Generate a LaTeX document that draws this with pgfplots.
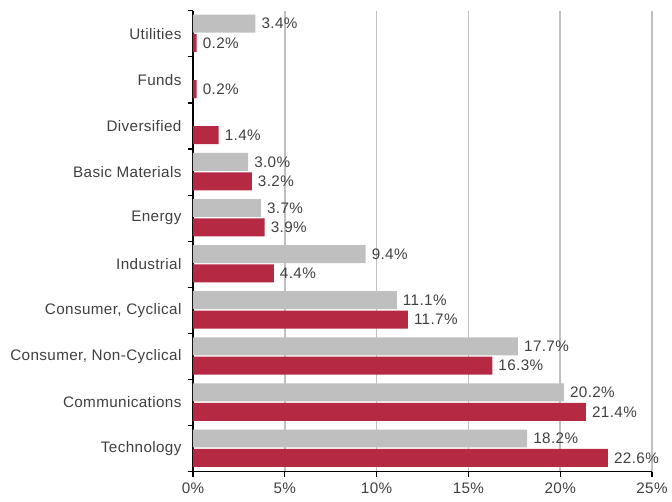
\documentclass[border=0pt]{standalone}
\usepackage{pgfplots}
\pgfplotsset{compat=1.18}
\usepackage{fontspec}
\setmainfont{Liberation Sans}[LetterSpace=2.5]
\definecolor{bargrey}{HTML}{BFBFBF}
\definecolor{barred}{HTML}{B52A42}
\definecolor{txt}{HTML}{404040}
\definecolor{gridc}{HTML}{C0C0C0}
\begin{document}
\begin{tikzpicture}
\path[use as bounding box] (-193bp,-30.3bp) rectangle (479bp,471.7bp);
\begin{axis}[
  at={(0,0)}, anchor=south west,
  scale only axis,
  width=459bp, height=461bp,
  xmin=0, xmax=25, ymin=-0.5, ymax=9.5,
  xbar, bar width=0.39,
  /pgf/number format/assume math mode=true,
  axis x line*=bottom, axis y line*=left,
  axis line style={black, line width=1.2bp, -},
  xtick={0,5,10,15,20,25},
  xticklabels={0\%,5\%,10\%,15\%,20\%,25\%},
  ytick={0,...,9},
  yticklabels={Technology,Communications,{Consumer, Non-Cyclical},{Consumer, Cyclical},Industrial,Energy,Basic Materials,Diversified,Funds,Utilities},
  minor ytick={-0.5,0.5,...,9.5},
  major y tick style={draw=none},
  minor y tick style={black, line width=1.2bp},
  minor tick length=5bp,
  major tick length=5bp,
  x tick style={black, line width=1.2bp},
  tick align=outside,
  xmajorgrids,
  major grid style={gridc, line width=1.5bp},
  ticklabel style={font=\fontsize{15.3}{17}\selectfont, text=txt},
  yticklabel style={xshift=-3bp},
  xticklabel style={yshift=-3bp},
  nodes near coords={\pgfmathprintnumber[fixed,precision=1,fixed zerofill]{\pgfplotspointmeta}\%},
  point meta=x,
  every node near coord/.append style={font=\fontsize{15.3}{17}\selectfont, text=txt, anchor=west, inner xsep=6bp},
]
\addplot[draw=none, fill=bargrey, bar shift=0.22] coordinates {
  (18.2,0) (20.2,1) (17.7,2) (11.1,3) (9.4,4) (3.7,5) (3.0,6) (3.4,9)
};
\addplot[draw=none, fill=barred, bar shift=-0.2] coordinates {
  (22.6,0) (21.4,1) (16.3,2) (11.7,3) (4.4,4) (3.9,5) (3.2,6) (1.4,7) (0.2,8) (0.2,9)
};
\end{axis}
\end{tikzpicture}
\end{document}
